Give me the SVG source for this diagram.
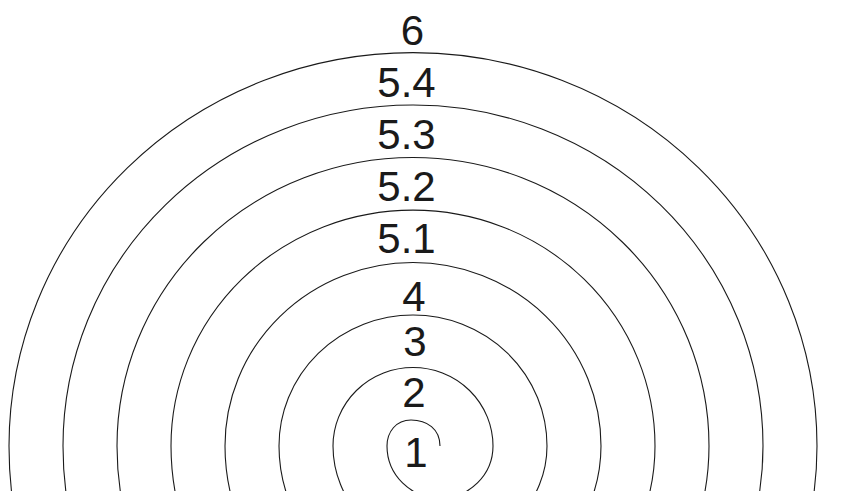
<svg xmlns="http://www.w3.org/2000/svg" width="865" height="491" viewBox="0 0 865 491">
<style>
.spiral{fill:none;stroke:#1a1a1a;stroke-width:1.1}
.lbl{font-family:"Liberation Sans",Arial,sans-serif;font-size:42px;fill:#1a1a1a;text-anchor:middle}
</style>
<rect width="865" height="491" fill="#ffffff"/>
<g id="spiral">
<path class="spiral" d="M440,446 C440,429 427,420 411,420 C396,420 387,432 387,446
A53 52.25 0 0 0 493 446
A80 78.5 0 0 0 333 446
A107 104.75 0 0 0 547 446
A134 131 0 0 0 279 446
A161 157.25 0 0 0 601 446
A188 183.5 0 0 0 225 446
A215 209.75 0 0 0 655 446
A242 236 0 0 0 171 446
A269 262.25 0 0 0 709 446
A296 288.5 0 0 0 117 446
A323 314.75 0 0 0 763 446
A350 341 0 0 0 63 446
A377 367.25 0 0 0 817 446
A404 393.5 0 0 0 9 446
A431 419.75 0 0 0 871 446"/>
</g>
<g id="labels">
<text class="lbl" x="412.5" y="45">6</text>
<text class="lbl" x="406.5" y="97">5.4</text>
<text class="lbl" x="406.5" y="149">5.3</text>
<text class="lbl" x="406.5" y="201">5.2</text>
<text class="lbl" x="406.5" y="253">5.1</text>
<text class="lbl" x="414" y="311">4</text>
<text class="lbl" x="415" y="356">3</text>
<text class="lbl" x="414" y="407">2</text>
<text class="lbl" x="416" y="467">1</text>
</g>
</svg>
